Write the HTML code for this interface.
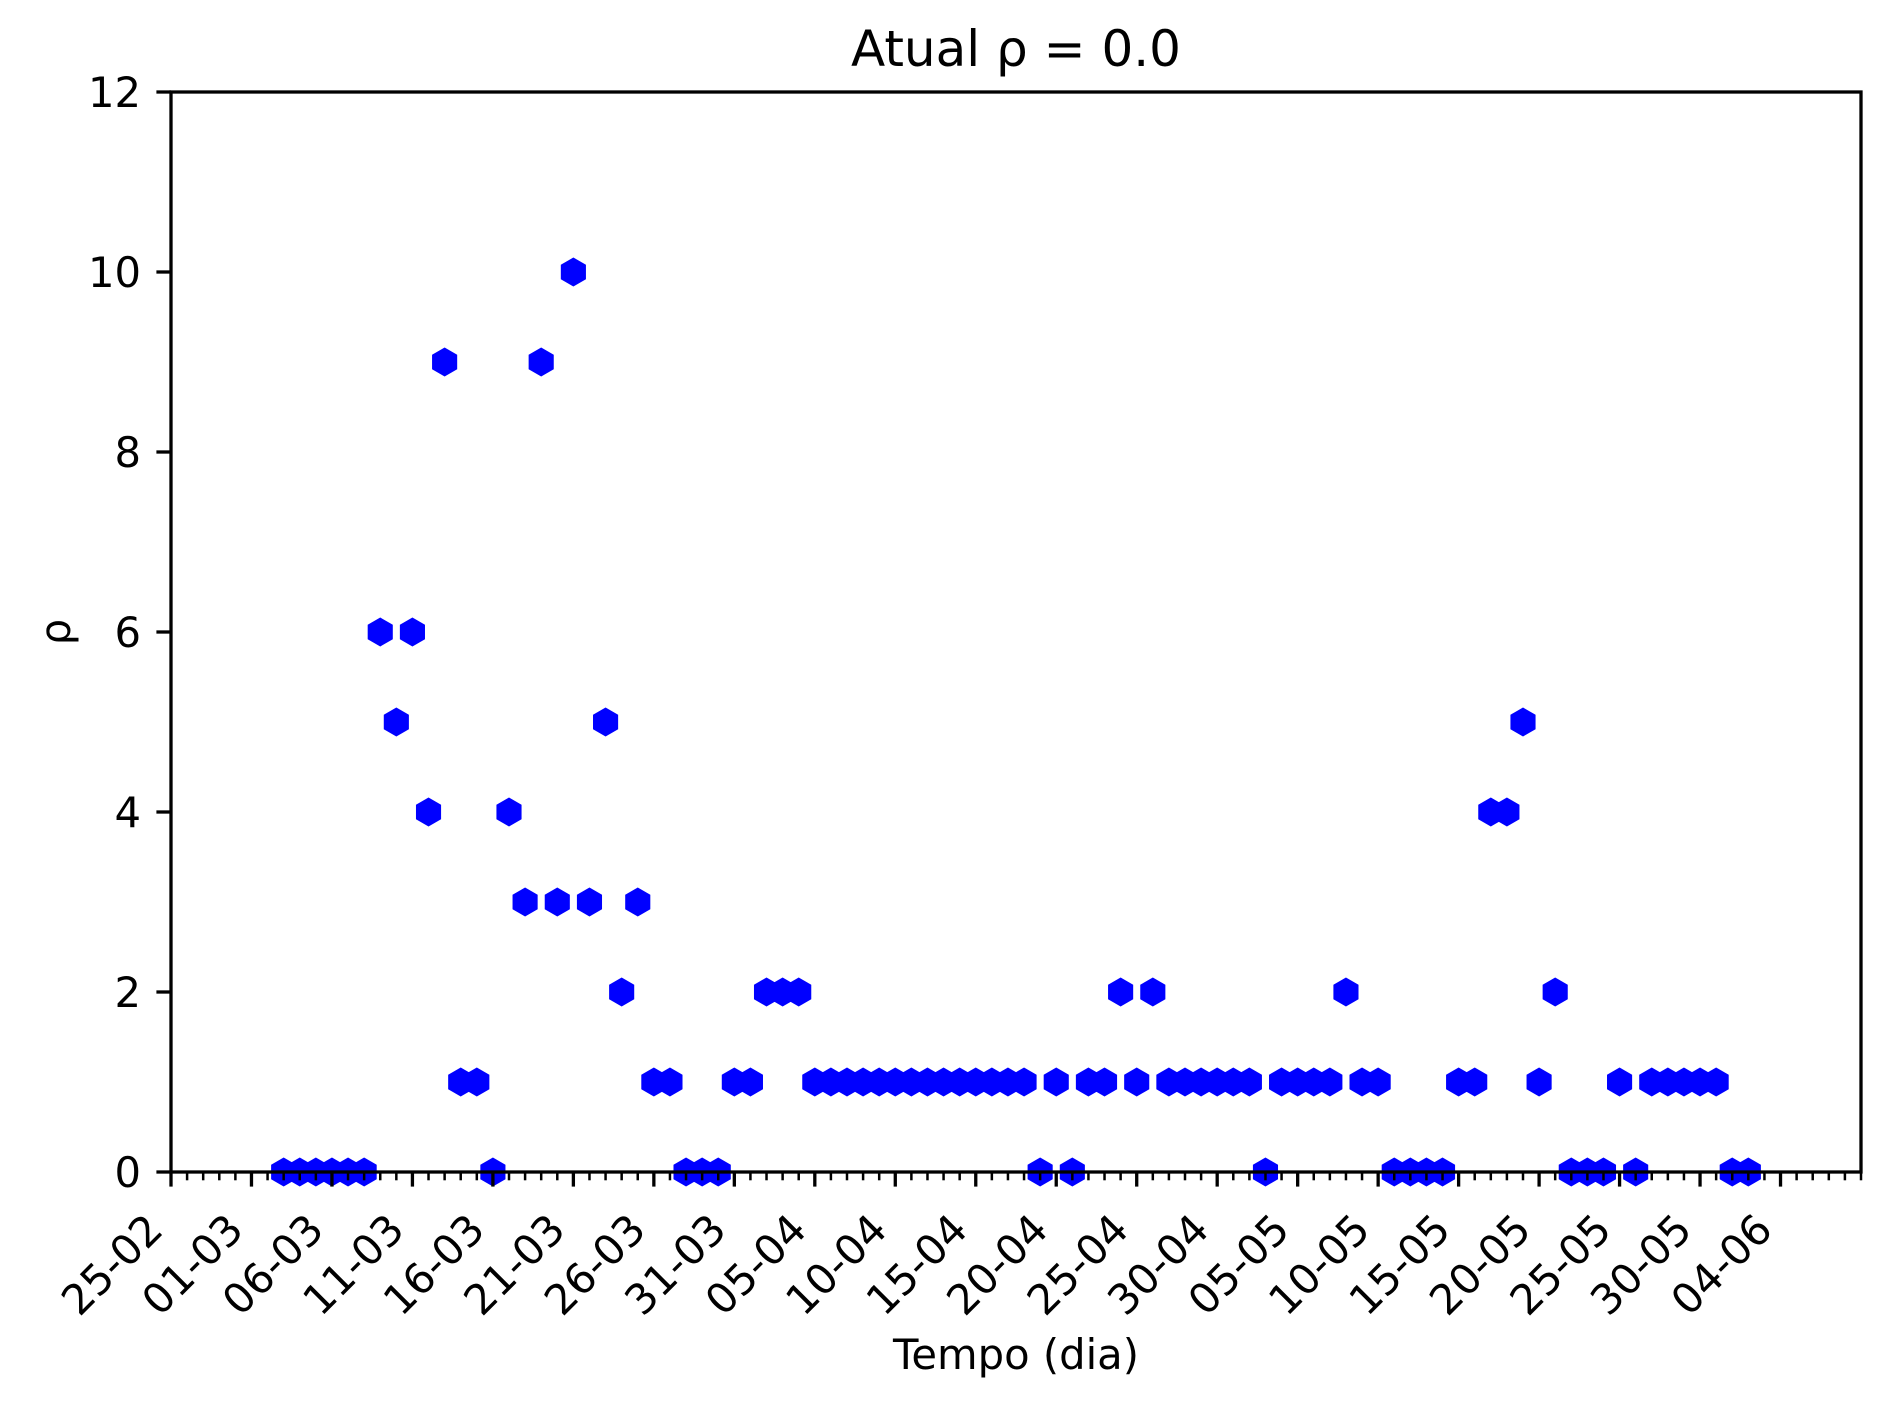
<!DOCTYPE html>
<html><head><meta charset="utf-8"><style>
html,body{margin:0;padding:0;background:#fff;}
svg{display:block;font-family:"DejaVu Sans","Liberation Sans",sans-serif;}
</style></head><body>
<svg id="chart" width="1890" height="1406" viewBox="0 0 1890 1406" xmlns="http://www.w3.org/2000/svg">
<rect width="1890" height="1406" fill="#fff"/>
<text x="1016" y="66" font-size="50" text-anchor="middle">Atual ρ = 0.0</text>
<text x="1016" y="1369" font-size="41.7" text-anchor="middle">Tempo (dia)</text>
<text transform="translate(70,632) rotate(-90)" font-size="41.7" text-anchor="middle">ρ</text>
<g id="marks"></g>
<g id="axes"></g>
</svg>
<script>
const dayIndex = [7,8,9,10,11,12,13,14,15,16,17,18,19,20,21,22,23,24,25,26,27,28,29,30,31,32,33,34,35,36,37,38,39,40,41,42,43,44,45,46,47,48,49,50,51,52,53,54,55,56,57,58,59,60,61,62,63,64,65,66,67,68,69,70,71,72,73,74,75,76,77,78,79,80,81,82,83,84,85,86,87,88,89,90,91,92,93,94,95,96,97,98];
const rhoValues = [0,0,0,0,0,0,6,5,6,4,9,1,1,0,4,3,9,3,10,3,5,2,3,1,1,0,0,0,1,1,2,2,2,1,1,1,1,1,1,1,1,1,1,1,1,1,1,0,1,0,1,1,2,1,2,1,1,1,1,1,1,0,1,1,1,1,2,1,1,0,0,0,0,1,1,4,4,5,1,2,0,0,0,1,0,1,1,1,1,1,0,0];
const xTickLabels = ["25-02","01-03","06-03","11-03","16-03","21-03","26-03","31-03","05-04","10-04","15-04","20-04","25-04","30-04","05-05","10-05","15-05","20-05","25-05","30-05","04-06"];
const yTickLabels = ["0","2","4","6","8","10","12"];
const xDomain = [0, 105];
const yDomain = [0, 12];

const L=171,R=1861,T=92,B=1172;
const NS="http://www.w3.org/2000/svg";
function xs(d){return L+(d-xDomain[0])/(xDomain[1]-xDomain[0])*(R-L);}
function ys(v){return B-(v-yDomain[0])/(yDomain[1]-yDomain[0])*(B-T);}
function mk(tag,attrs,parent){const e=document.createElementNS(NS,tag);for(const k in attrs)e.setAttribute(k,attrs[k]);parent.appendChild(e);return e;}

const marks=document.getElementById('marks');
const r=14.5;
dayIndex.forEach((d,i)=>{
  const cx=xs(d),cy=ys(rhoValues[i]);
  let pts=[];
  for(let k=0;k<6;k++){const a=-Math.PI/2+k*Math.PI/3;pts.push((cx+r*Math.cos(a)).toFixed(2)+','+(cy+r*Math.sin(a)).toFixed(2));}
  const p=mk('polygon',{points:pts.join(' '),fill:'#0000ff'},marks);
  
  
});

const axes=document.getElementById('axes');
const frame=mk('rect',{x:L,y:T,width:R-L,height:B-T,fill:'none',stroke:'#000','stroke-width':3.3},axes);



for(let d=xDomain[0];d<=xDomain[1];d++){
  const x=xs(d);
  mk('line',{x1:x,y1:B,x2:x,y2:B+8.3,stroke:'#000','stroke-width':2.5},axes);
}
xTickLabels.forEach((lab,i)=>{
  const d=i===0?0:5+(i-1)*5;
  const tx=xs(d);
  mk('line',{x1:tx,y1:B,x2:tx,y2:B+14.6,stroke:'#000','stroke-width':3.3},axes);
  const t=mk('text',{x:tx-6,y:B+60,'font-size':41.7,'text-anchor':'end',transform:'rotate(-45 '+(tx-6)+' '+(B+60)+')'},axes);
  t.textContent=lab;
  
  
});
yTickLabels.forEach((lab)=>{
  const y=ys(+lab);
  mk('line',{x1:L-14.6,y1:y,x2:L,y2:y,stroke:'#000','stroke-width':3.3},axes);
  const t=mk('text',{x:L-30,y:y+15,'font-size':41.7,'text-anchor':'end'},axes);
  t.textContent=lab;
  
  
});
</script>
</body></html>
